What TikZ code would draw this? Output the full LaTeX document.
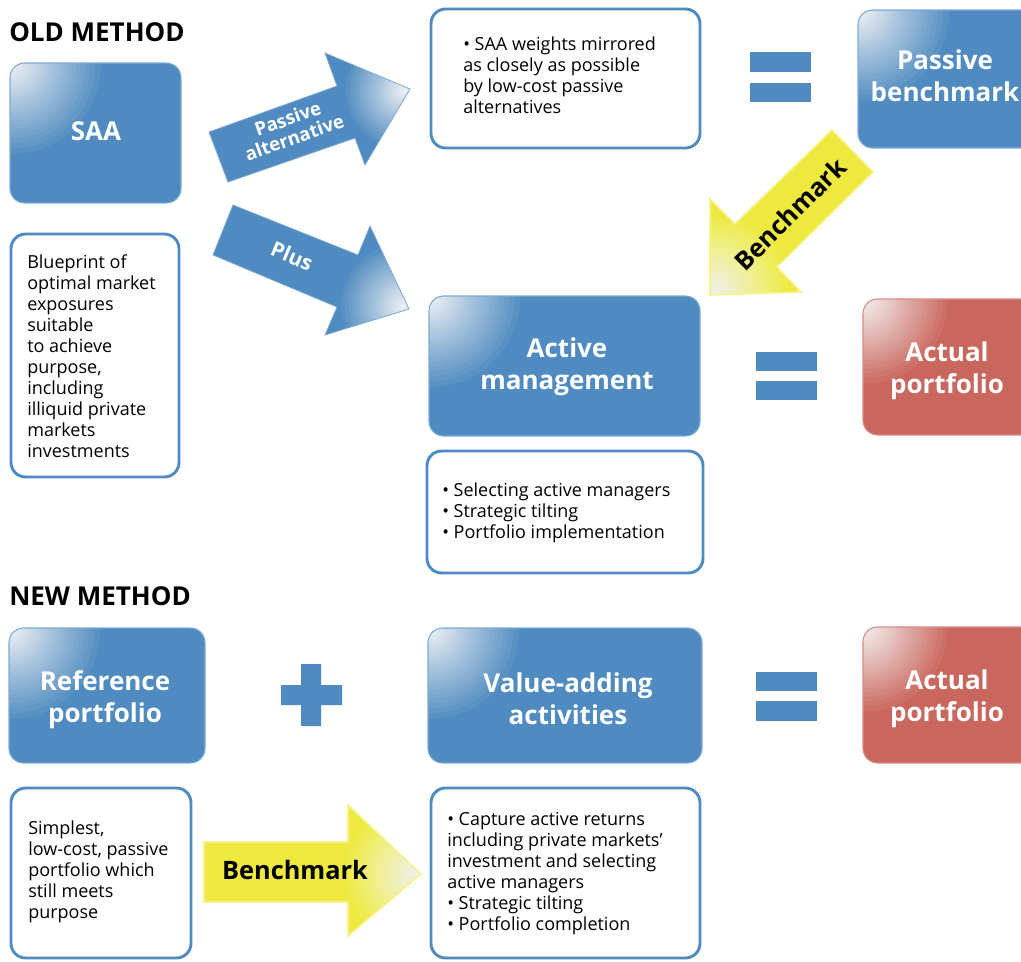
\documentclass[tikz,border=0pt]{standalone}
\usepackage{fontspec}
\setmainfont{Open Sans}
\usepackage{tikz}

\definecolor{boxblue}{RGB}{79,139,192}
\definecolor{edgeblue}{RGB}{125,170,210}
\definecolor{boxred}{RGB}{201,102,94}
\definecolor{edgered}{RGB}{215,140,133}
\definecolor{benchyellow}{RGB}{237,233,62}
\definecolor{edgeyellow}{RGB}{246,243,140}

\tikzset{
  glow/.style 2 args={path picture={%
    \foreach \k in {1,...,48}{%
      \pgfmathsetmacro\glowr{#2*(1-(1-0.94^\k)/0.95)}%
      \fill [white, fill opacity=0.06] (#1) circle (\glowr);}}},
  bluebox/.style={fill=boxblue, draw=edgeblue, line width=0.8, rounded corners=11pt,
    glow={[shift={(2,2)}]path picture bounding box.north west}{95}},
  redbox/.style={fill=boxred, draw=edgered, line width=0.8, rounded corners=11pt,
    glow={[shift={(2,2)}]path picture bounding box.north west}{88}},
  textbox/.style={fill=white, draw=boxblue, line width=2.2, rounded corners=11pt},
  bluearrow/.style={fill=boxblue, draw=edgeblue, line width=0.6},
  yellowarrow/.style={fill=benchyellow, draw=edgeyellow, line width=1.2},
  heading/.style={anchor=north west, inner sep=0.75pt, font=\fontsize{19.5}{22}\selectfont\bfseries},
  boxtitle/.style={inner sep=0.75pt, text=white, align=center, font=\fontsize{19.5}{24}\selectfont\bfseries},
  bodytext/.style={anchor=north west, inner sep=0.75pt, align=left, font=\fontsize{13.5}{15.75}\selectfont},
  arrowtext/.style={inner sep=0.75pt, text=white, align=center, font=\fontsize{14}{15}\selectfont\bfseries},
  benchtext/.style={inner sep=0.75pt, text=black, font=\fontsize{19}{22}\selectfont\bfseries}
}

\begin{document}
\begin{tikzpicture}[x=0.75pt,y=0.75pt,yscale=-1,xscale=1]
\useasboundingbox (0,0) rectangle (1021,961);

% ---------------- OLD METHOD ----------------
% Text Node
\node (oldhead) [heading] at (8,21) {OLD METHOD};

%Shape: Rounded Rect SAA
\draw [bluebox] (10,63) rectangle (181,203);
\node (saa) [boxtitle] at (96,131) {SAA};

%Shape: Rounded Rect blueprint
\draw [textbox] (11,234) rectangle (179,477);
\node (blueprint) [bodytext] at (26,253) {Blueprint of\\optimal market\\exposures\\suitable\\to achieve\\purpose,\\including\\illiquid private\\markets\\investments};

%Shape: Block Arrow passive alternative
\coordinate (tipalt) at (410,89);
\draw [bluearrow, glow={[shift={(-6,2)}]tipalt}{62}] (209,132) -- (337,86) -- (325,53) -- (tipalt) -- (365,165) -- (355,138) -- (228,182) -- cycle;
\node (passalt) [arrowtext, rotate=19.5] at (291,128) {Passive\\alternative};

%Shape: Block Arrow plus
\coordinate (tipplus) at (409,309);
\draw [bluearrow, glow={[shift={(-6,-3)}]tipplus}{66}] (233,205) -- (358,255) -- (370,226) -- (tipplus) -- (325,335) -- (337,307) -- (213,255) -- cycle;
\node (plus) [arrowtext, font=\fontsize{15.5}{17}\selectfont\bfseries, rotate=-23] at (292,256) {Plus};

%Shape: Rounded Rect passive weights
\draw [textbox] (431,9) rectangle (700,148);
\node (saaweights) [bodytext] at (462,36) {• SAA weights mirrored\\as closely as possible\\by low-cost passive\\alternatives};

%Shape: Equals top
\fill [boxblue] (750,52) rectangle (811,72);
\fill [boxblue] (750,83) rectangle (811,102);

%Shape: Rounded Rect passive benchmark
\draw [bluebox] (858,10) rectangle (1040,148);
\node (passbench) [boxtitle] at (945,76) {Passive\\benchmark};

%Shape: Block Arrow benchmark (top)
\coordinate (tipbench) at (710,295);
\draw [yellowarrow, glow={[shift={(4,-4)}]tipbench}{80}] (832,130) -- (873,172) -- (777,267) -- (801,292) -- (tipbench) -- (710,199) -- (735,224) -- cycle;
\node (benchtop) [benchtext, rotate=45] at (790,214) {Benchmark};

%Shape: Rounded Rect active management
\draw [bluebox] (429,296) rectangle (700,436);
\node (activemgmt) [boxtitle] at (567,367) {Active\\management};

%Shape: Equals middle
\fill [boxblue] (756,352) rectangle (817,371);
\fill [boxblue] (756,381) rectangle (817,400);

%Shape: Rounded Rect actual portfolio (old)
\draw [redbox] (863,299) rectangle (1040,435);
\node (actualold) [boxtitle] at (947,371) {Actual\\portfolio};

%Shape: Rounded Rect active tasks
\draw [textbox] (427,451) rectangle (703,573);
\node (activetasks) [bodytext] at (441,482) {• Selecting active managers\\• Strategic tilting\\• Portfolio implementation};

% ---------------- NEW METHOD ----------------
% Text Node
\node (newhead) [heading] at (8,585) {NEW METHOD};

%Shape: Rounded Rect reference portfolio
\draw [bluebox] (9,628) rectangle (205,763);
\node (refport) [boxtitle] at (105,700) {Reference\\portfolio};

%Shape: Plus sign
\fill [boxblue] (301,664) -- (321,664) -- (321,685) -- (342,685) -- (342,705) -- (321,705) -- (321,726) -- (301,726) -- (301,705) -- (281,705) -- (281,685) -- (301,685) -- cycle;

%Shape: Rounded Rect value adding
\draw [bluebox] (428,628) rectangle (702,763);
\node (valueadd) [boxtitle] at (568,699) {Value-adding\\activities};

%Shape: Equals bottom
\fill [boxblue] (756,672) rectangle (817,691);
\fill [boxblue] (756,701) rectangle (817,721);

%Shape: Rounded Rect actual portfolio (new)
\draw [redbox] (863,627) rectangle (1040,763);
\node (actualnew) [boxtitle] at (947,699) {Actual\\portfolio};

%Shape: Rounded Rect simplest
\draw [textbox] (11,788) rectangle (191,958);
\node (simplest) [bodytext] at (27,820) {Simplest,\\low-cost, passive\\portfolio which\\still meets\\purpose};

%Shape: Block Arrow benchmark (bottom)
\coordinate (tipbenchlow) at (421,874);
\draw [yellowarrow, glow={[shift={(-5,0)}]tipbenchlow}{75}] (204,842) -- (348,842) -- (348,805) -- (tipbenchlow) -- (348,936) -- (348,902) -- (204,902) -- cycle;
\node (benchlow) [benchtext] at (295,870) {Benchmark};

%Shape: Rounded Rect value adding tasks
\draw [textbox] (431,788) rectangle (700,958);
\node (valuetasks) [bodytext] at (446,811) {• Capture active returns\\including private markets’\\investment and selecting\\active managers\\• Strategic tilting\\• Portfolio completion};

\end{tikzpicture}
\end{document}
